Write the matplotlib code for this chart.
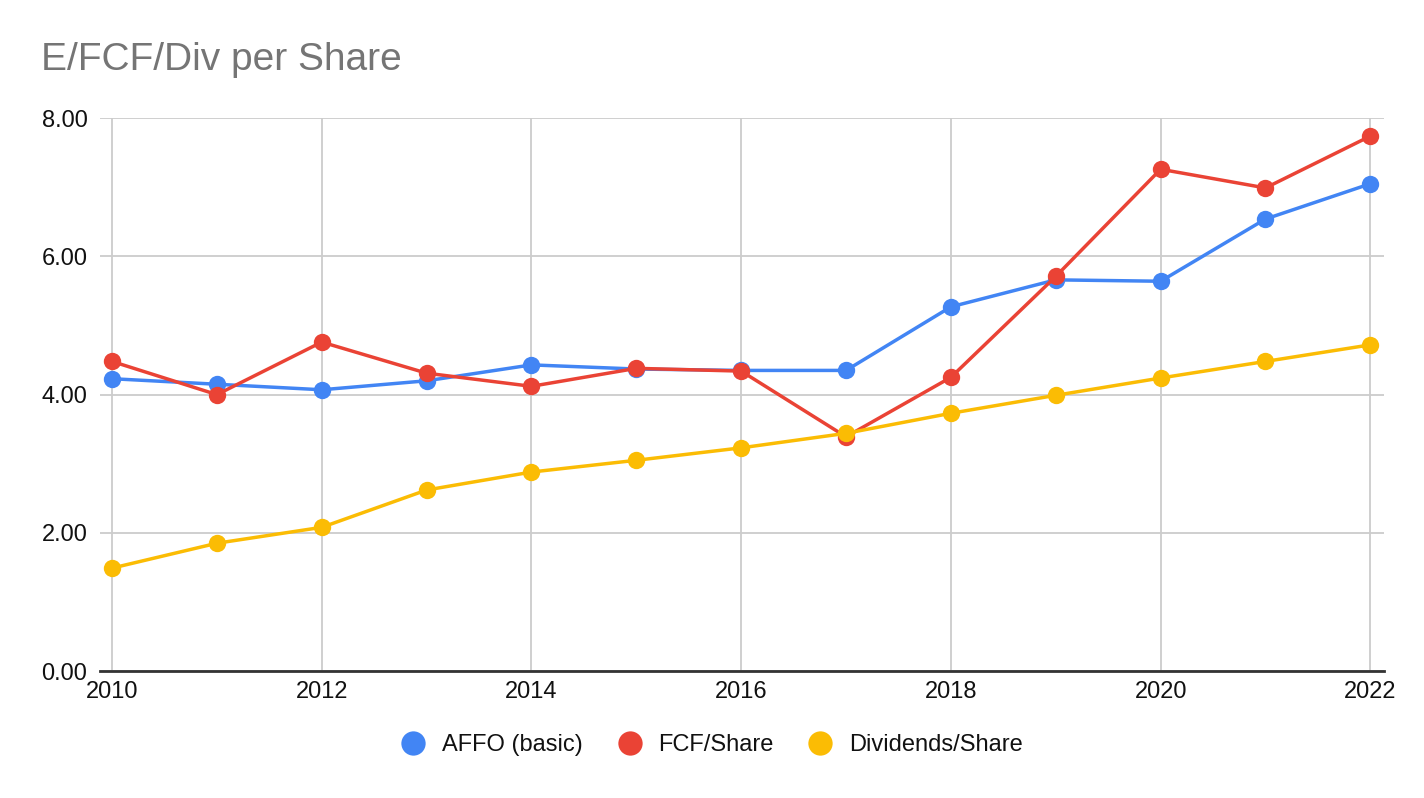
import numpy as np
import matplotlib.pyplot as plt
from matplotlib.lines import Line2D

plt.rcParams['font.family'] = ['Liberation Sans', 'DejaVu Sans']

years = np.arange(2010, 2023)
affo = [4.23, 4.15, 4.07, 4.20, 4.43, 4.37, 4.35, 4.35, 5.27, 5.66, 5.64, 6.54, 7.05]
fcf = [4.48, 4.00, 4.76, 4.31, 4.12, 4.38, 4.34, 3.39, 4.25, 5.71, 7.26, 6.99, 7.74]
divs = [1.49, 1.85, 2.08, 2.62, 2.88, 3.05, 3.23, 3.44, 3.73, 3.99, 4.24, 4.48, 4.72]

names = ['AFFO (basic)', 'FCF/Share', 'Dividends/Share']
colors = ['#4285f4', '#ea4335', '#fbbc04']

fig = plt.figure(figsize=(14.24, 7.98), dpi=100)
ax = fig.add_axes([0.0702, 0.159, 0.9017, 0.693])

for vals, c in zip([affo, fcf, divs], colors):
    ax.plot(years, vals, color=c, lw=2.5, marker='o', ms=12.5,
            markeredgewidth=0, solid_capstyle='round', clip_on=False)

ax.set_xlim(2009.885, 2022.13)
ax.set_ylim(0, 8)
ax.set_xticks(np.arange(2010, 2023, 2))
ax.set_yticks(np.arange(0, 8.1, 2))
ax.set_yticklabels(['%.2f' % v for v in np.arange(0, 8.1, 2)])
ax.grid(True, color='#cccccc', lw=1.3)
ax.set_axisbelow(True)
for s in ['top', 'right', 'left']:
    ax.spines[s].set_visible(False)
ax.spines['bottom'].set_color('#333333')
ax.spines['bottom'].set_linewidth(2)
ax.spines['bottom'].set_zorder(1.5)
ax.tick_params(length=0, labelsize=17, colors='#111111')
ax.tick_params(axis='y', pad=9)
ax.tick_params(axis='x', pad=7)

fig.text(0.029, 0.925, 'E/FCF/Div per Share', fontsize=28, color='#757575',
         va='center', ha='left')

handles = [Line2D([], [], ls='none', marker='o', ms=17.5, color=c, markeredgewidth=0)
           for c in colors]
fig.legend(handles, names, loc='center', bbox_to_anchor=(0.5, 0.066), ncol=3,
           frameon=False, fontsize=17, handletextpad=0.7, columnspacing=1.5,
           handlelength=1.0, labelcolor='#111111')

fig.savefig('out.png', dpi=100)
